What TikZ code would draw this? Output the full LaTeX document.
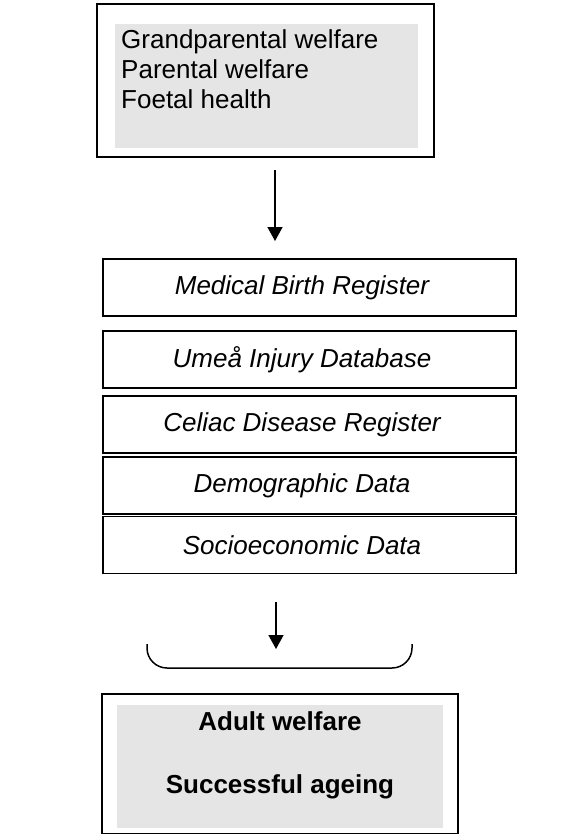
\documentclass[tikz,border=0pt]{standalone}
\usepackage{fontspec}
\setmainfont{Liberation Sans}
\usetikzlibrary{arrows.meta}
\definecolor{shade}{RGB}{229,229,229}
\tikzset{
  frame/.style={draw=black, line width=1.8pt, rectangle, inner sep=0pt},
  shadebox/.style={fill=shade, draw=none, rectangle, inner sep=0pt},
  regbox/.style={draw=black, line width=1.8pt, rectangle, minimum width=413pt, minimum height=57pt, inner sep=0pt},
  regtxt/.style={inner sep=0pt, font=\fontsize{26}{30}\selectfont\itshape},
  arr/.style={line width=1.5pt, -{Triangle[width=15pt,length=14pt]}},
  txt/.style={inner sep=0pt, font=\fontsize{26}{30}\selectfont},
  btxt/.style={inner sep=0pt, font=\fontsize{26}{30}\selectfont\bfseries},
  bracket/.style={line width=1.5pt, rounded corners=20pt}
}
\begin{document}
\begin{tikzpicture}[x=1pt,y=-1pt]
\useasboundingbox (0,0) rectangle (580,834);
% top box
\node[frame, minimum width=337pt, minimum height=153pt] (top) at (265.5,80.5) {};
\node[shadebox, minimum width=303pt, minimum height=124pt] (topfill) at (266.5,86) {};
\node[txt, align=left, anchor=north west] (toptext) at (121,29) {Grandparental welfare\\Parental welfare\\Foetal health};
% arrow 1
\coordinate (a1s) at (275,170);
\coordinate (a1e) at (275,241);
\draw[arr] (a1s) -- (a1e);
% registers
\node[regbox] (mbr) at (309.5,287.5) {};
\node[regbox] (uid) at (309.5,359.5) {};
\node[regbox] (cdr) at (309.5,424.5) {};
\node[regbox] (dd)  at (309.5,485.5) {};
\node[regbox] (sd)  at (309.5,545) {};
\node[regtxt] (mbrt) at (302,287.5) {Medical Birth Register};
\node[regtxt] (uidt) at (302,359.5) {Umeå Injury Database};
\node[regtxt] (cdrt) at (302,424.5) {Celiac Disease Register};
\node[regtxt] (ddt)  at (302,485.5) {Demographic Data};
\node[regtxt] (sdt)  at (302,545) {Socioeconomic Data};
% arrow 2
\coordinate (a2s) at (276,602);
\coordinate (a2e) at (276,649);
\draw[arr] (a2s) -- (a2e);
% bracket
\coordinate (bl) at (147,644);
\coordinate (br) at (412,644);
\draw[bracket] (bl) -- (147,668) -- (412,668) -- (br);
% adult box
\node[frame, minimum width=356pt, minimum height=140pt] (adult) at (280,764) {};
\node[shadebox, minimum width=326pt, minimum height=123pt] (adultfill) at (280,766.5) {};
\node[btxt, anchor=base] (aw) at (280,730) {Adult welfare};
\node[btxt, anchor=base] (sa) at (280,793) {Successful ageing};
\end{tikzpicture}
\end{document}
